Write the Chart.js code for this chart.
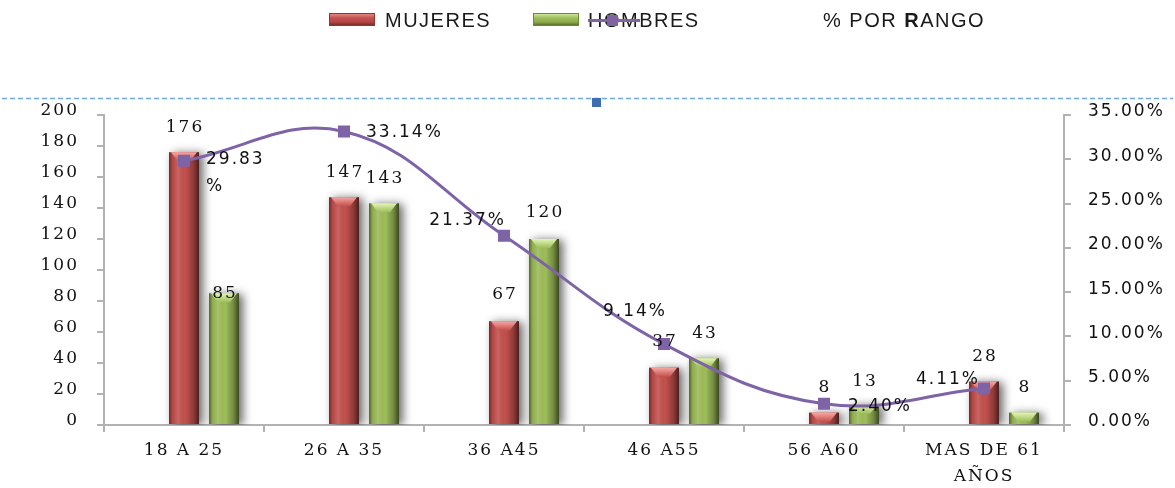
<!DOCTYPE html>
<html><head><meta charset="utf-8">
<script src="https://cdn.jsdelivr.net/npm/chart.js@4.4.0/dist/chart.umd.min.js"></script>
<style>
html,body{margin:0;padding:0;background:#fff;}
#wrap{position:relative;width:1175px;height:488px;overflow:hidden;}
#c{position:absolute;left:0;top:0;}
.lg{position:absolute;top:8px;font-family:"Liberation Sans",Arial,sans-serif;font-size:20px;letter-spacing:1.5px;color:#1a1a1a;line-height:24px;white-space:nowrap;}
.sw{position:absolute;top:13px;width:46px;height:13px;box-sizing:border-box;}
</style></head><body>
<div id="wrap">
<canvas id="c" width="1175" height="488"></canvas>
<div class="sw" style="left:329px;background:linear-gradient(#e48582,#c0504d 40%,#b34846 70%,#7e2b29);border:1px solid #8f3533;"></div>
<div class="lg" style="left:385px">MUJERES</div>
<div class="sw" style="left:533px;background:linear-gradient(#cde59a,#9bbb59 40%,#8fae50 70%,#5d7428);border:1px solid #6d8a33;"></div>
<div class="lg" style="left:588px">HOMBRES</div>
<div style="position:absolute;left:588px;top:19px;width:52px;height:3px;background:#8064a2;"></div>
<div style="position:absolute;left:607px;top:15px;width:11px;height:11px;background:#8064a2;"></div>
<div class="lg" style="left:823px">% POR <b>R</b>ANGO</div>
</div>
<script>
// ---- data ----
const categories = ['18 A 25', '26 A 35', '36 A45', '46 A55', '56 A60', ['MAS DE 61', 'AÑOS']];
const mujeres = [176, 147, 67, 37, 8, 28];
const hombres = [85, 143, 120, 43, 13, 8];
const porRango = [29.83, 33.14, 21.37, 9.14, 2.40, 4.11];
const leftTicks = {min: 0, max: 200, step: 20};
const rightTicks = {min: 0, max: 35, step: 5};

// ---- label placement (style) ----
const mujeresLabelDy = [-25, -25, -27, -26, -25, -25];
const hombresLabelDy = [0, -25, -26, -25, -23, -25];
const pctLabelLayout = [
  {dx: 22, dy: -1, align: 'left', wrap: true},
  {dx: 22, dy: 1, align: 'left'},
  {dx: 2, dy: -15, align: 'right'},
  {dx: 3, dy: -32, align: 'right'},
  {dx: 24, dy: 3, align: 'left'},
  {dx: -4, dy: -9, align: 'right'}
];

const AXIS = '#b2b2b2';
const SERIF = 'DejaVu Serif';
const SANS = 'DejaVu Sans';

const shade = {
  id: 'shade',
  beforeDraw(chart) { chart.ctx.letterSpacing = '2px'; },
  beforeDatasetDraw(chart, args) {
    const ds = chart.data.datasets[args.index];
    if (ds.type === 'line' || ds.spacer) return;
    const ctx = chart.ctx;
    ctx.save();
    ctx.shadowColor = 'rgba(0,0,0,0.6)';
    ctx.shadowBlur = 10;
    ctx.shadowOffsetX = 4;
    ctx.shadowOffsetY = 1;
  },
  afterDatasetDraw(chart, args) {
    const ds = chart.data.datasets[args.index];
    if (ds.type === 'line' || ds.spacer) return;
    const ctx = chart.ctx;
    ctx.restore();
    ctx.save();
    args.meta.data.forEach(el => {
      const {x, y, base, width} = el.getProps(['x', 'y', 'base', 'width'], true);
      if (!isFinite(y)) return;
      const l = x - width / 2, r = x + width / 2;
      const g = ctx.createLinearGradient(l, 0, r, 0);
      g.addColorStop(0, 'rgba(0,0,0,0.45)');
      g.addColorStop(0.12, 'rgba(0,0,0,0.08)');
      g.addColorStop(0.3, 'rgba(255,255,255,0.12)');
      g.addColorStop(0.55, 'rgba(0,0,0,0)');
      g.addColorStop(0.82, 'rgba(0,0,0,0.28)');
      g.addColorStop(1, 'rgba(0,0,0,0.62)');
      ctx.fillStyle = g;
      ctx.fillRect(l, y, width, base - y);
      const capH = Math.min(9, base - y);
      const cg = ctx.createLinearGradient(0, y, 0, y + capH);
      cg.addColorStop(0, ds.capColor);
      cg.addColorStop(1, ds.backgroundColor);
      ctx.beginPath();
      ctx.moveTo(l + 2, y);
      ctx.lineTo(r - 2, y);
      ctx.lineTo(r - width * 0.3, y + capH);
      ctx.lineTo(l + width * 0.3, y + capH);
      ctx.closePath();
      ctx.fillStyle = cg;
      ctx.fill();
    });
    ctx.restore();
  },
  afterDatasetsDraw(chart) {
    const ctx = chart.ctx;
    ctx.save();
    ctx.letterSpacing = '2px';
    ctx.fillStyle = '#111';
    ctx.textBaseline = 'middle';
    // bar value labels
    chart.data.datasets.forEach((ds, di) => {
      if (ds.type === 'line' || ds.spacer) return;
      const meta = chart.getDatasetMeta(di);
      ctx.font = '17px "' + SERIF + '"';
      ctx.textAlign = 'center';
      meta.data.forEach((el, i) => {
        const v = ds.data[i];
        ctx.fillText(String(v), el.x + 1, el.y + ds.labelDy[i]);
      });
    });
    // percentage labels
    const li = chart.data.datasets.findIndex(d => d.type === 'line');
    const lm = chart.getDatasetMeta(li);
    ctx.font = '17px "' + SANS + '"';
    lm.data.forEach((el, i) => {
      const p = pctLabelLayout[i];
      const txt = porRango[i].toFixed(2) + '%';
      ctx.textAlign = p.align;
      const x = el.x + p.dx, y = el.y + p.dy;
      if (p.wrap) {
        ctx.fillText(txt.slice(0, -1), x, y);
        ctx.fillText('%', x, y + 27);
      } else {
        ctx.fillText(txt, x, y);
      }
    });
    ctx.restore();
  },
  afterDraw(chart) {
    const ctx = chart.ctx;
    ctx.save();
    ctx.letterSpacing = '0px';
    ctx.strokeStyle = '#6fa6e8';
    ctx.lineWidth = 1.5;
    ctx.setLineDash([5, 3]);
    ctx.beginPath();
    ctx.moveTo(2, 98.5);
    ctx.lineTo(1173, 98.5);
    ctx.stroke();
    ctx.setLineDash([]);
    ctx.fillStyle = '#3e6db2';
    ctx.fillRect(592, 98, 9, 9);
    ctx.restore();
  }
};

new Chart(document.getElementById('c'), {
  type: 'bar',
  data: {
    labels: categories,
    datasets: [
      {label: '', spacer: true, data: categories.map(() => null), backgroundColor: 'rgba(0,0,0,0)'},
      {label: 'MUJERES', data: mujeres, backgroundColor: '#c4504d', capColor: '#f7a8a5', labelDy: mujeresLabelDy},
      {label: 'HOMBRES', data: hombres, backgroundColor: '#9dbd59', capColor: '#e2f5b4', labelDy: hombresLabelDy},
      {type: 'line', label: '% POR RANGO', data: porRango, yAxisID: 'y1', borderColor: '#7f63a7', borderWidth: 3,
       tension: 0.4, pointStyle: 'rect', pointRadius: 8.5, pointBackgroundColor: '#7f63a7', pointBorderWidth: 0, order: -1}
    ]
  },
  options: {
    responsive: false,
    animation: false,
    devicePixelRatio: 1,
    layout: {padding: {top: 115, left: 0, right: 0, bottom: 0}},
    categoryPercentage: 0.75,
    barPercentage: 0.75,
    plugins: {legend: {display: false}, tooltip: {enabled: false}},
    scales: {
      x: {
        offset: true,
        grid: {display: true, drawOnChartArea: false, drawTicks: true, tickLength: 7, color: AXIS, lineWidth: 2, offset: true},
        border: {color: AXIS, width: 2},
        ticks: {font: {family: SERIF, size: 17, lineHeight: 1.5}, color: '#111', padding: 6, maxRotation: 0, autoSkip: false},
        afterFit(s) { s.height = 63; }
      },
      y: {
        position: 'left',
        min: leftTicks.min, max: leftTicks.max,
        grid: {drawOnChartArea: false, drawTicks: true, tickLength: 7, color: AXIS, lineWidth: 2},
        border: {color: AXIS, width: 2},
        ticks: {stepSize: leftTicks.step, font: {family: SERIF, size: 17}, color: '#111', padding: 18, labelOffset: -4},
        afterFit(s) { s.width = 104; }
      },
      y1: {
        position: 'right',
        min: rightTicks.min, max: rightTicks.max,
        grid: {drawOnChartArea: false, drawTicks: true, tickLength: 7, color: AXIS, lineWidth: 2},
        border: {color: AXIS, width: 2},
        ticks: {stepSize: rightTicks.step, font: {family: SANS, size: 17}, color: '#111', padding: 17, labelOffset: -3,
                callback: v => v.toFixed(2) + '%'},
        afterFit(s) { s.width = 111; }
      }
    }
  },
  plugins: [shade]
});
</script>
</body></html>
